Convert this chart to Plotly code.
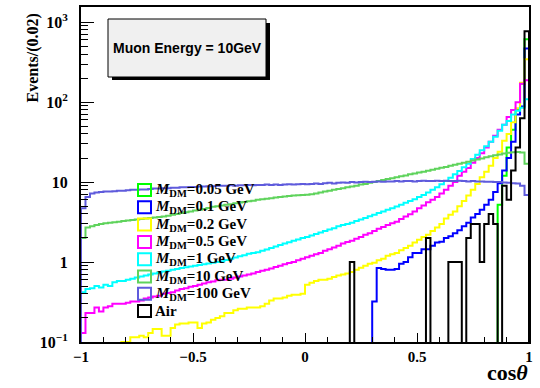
import plotly.graph_objects as go

# binning of the histograms: 100 bins of 0.02 in cos(theta)
n_bins = 100
bin_width = 0.02
x_min = -1.0
left_edges = [round(x_min + bin_width * i, 4) for i in range(n_bins)]

# bin contents (0 = empty bin)
m005 = [0] * 93 + [5.2, 12, 27, 45, 80, 170, 610]

m01 = [0] * 65 + [
    0.32, 0.84, 0.82, 0.8, 0.8, 0.82, 0.95, 1.0, 1.15, 1.3,
    1.3, 1.45, 1.45, 1.6, 1.75, 1.8, 2.0, 2.1, 2.3, 2.5,
    2.8, 3.1, 3.6, 4.0, 4.5, 5.2, 6.0, 7.5, 9.7, 14,
    20, 32, 70, 88, 470]

m02 = [0] * 9 + [
    0.1, 0.1, 0.115, 0.115, 0.12, 0.115, 0.13, 0.145, 0.145, 0.12,
    0.12, 0.15, 0.165, 0.17, 0.17, 0.175, 0.175, 0.15, 0.17, 0.175,
    0.19, 0.2, 0.21, 0.23, 0.23, 0.25, 0.26, 0.26, 0.27, 0.27,
    0.27, 0.28, 0.3, 0.33, 0.35, 0.35, 0.36, 0.38, 0.39, 0.39,
    0.4, 0.52, 0.55, 0.58, 0.6, 0.6, 0.62, 0.65, 0.68, 0.7,
    0.72, 0.75, 0.8, 0.85, 0.9, 0.95, 0.98, 1.05, 1.1, 1.2,
    1.25, 1.3, 1.4, 1.5, 1.6, 1.75, 1.9, 2.05, 2.2, 2.45,
    2.7, 3.0, 3.5, 3.9, 4.3, 5.0, 5.8, 6.8, 8.0, 9.5,
    11.5, 13.5, 16, 20, 24, 33, 40, 56, 84, 175,
    345]

m05 = [
    0.13, 0.23, 0.23, 0.27, 0.24, 0.27, 0.28, 0.3, 0.3, 0.3,
    0.31, 0.32, 0.32, 0.33, 0.35, 0.36, 0.37, 0.38, 0.4, 0.41,
    0.42, 0.44, 0.46, 0.47, 0.49, 0.5, 0.52, 0.54, 0.56, 0.57,
    0.59, 0.6, 0.6, 0.62, 0.64, 0.66, 0.68, 0.7, 0.72, 0.75,
    0.78, 0.8, 0.83, 0.87, 0.9, 0.94, 0.97, 1.0, 1.05, 1.1,
    1.15, 1.2, 1.25, 1.3, 1.38, 1.45, 1.52, 1.6, 1.7, 1.78,
    1.85, 1.95, 2.05, 2.2, 2.3, 2.45, 2.6, 2.75, 2.9, 3.05,
    3.2, 3.45, 3.7, 3.95, 4.3, 4.7, 5.1, 5.6, 6.0, 6.5,
    7.2, 8.0, 9.0, 10.0, 12.0, 13.5, 15, 17.5, 20, 23,
    27, 32, 38, 45, 52, 65, 80, 100, 170, 188]

m1 = [
    0.42, 0.46, 0.47, 0.5, 0.48, 0.52, 0.5, 0.56, 0.58, 0.58,
    0.6, 0.62, 0.64, 0.66, 0.68, 0.7, 0.72, 0.74, 0.76, 0.78,
    0.8, 0.82, 0.84, 0.86, 0.88, 0.9, 0.92, 0.94, 0.96, 0.98,
    1.0, 1.02, 1.06, 1.1, 1.14, 1.18, 1.22, 1.27, 1.3, 1.33,
    1.38, 1.44, 1.5, 1.56, 1.63, 1.7, 1.77, 1.85, 1.92, 2.0,
    2.05, 2.15, 2.25, 2.35, 2.45, 2.55, 2.65, 2.8, 2.9, 3.0,
    3.1, 3.25, 3.4, 3.55, 3.75, 3.9, 4.1, 4.3, 4.5, 4.7,
    4.95, 5.2, 5.5, 5.8, 6.1, 6.5, 6.9, 7.4, 8.0, 8.6,
    9.4, 10.3, 11.3, 12.5, 13.8, 15.3, 17, 19.5, 22, 25,
    28, 32, 37, 44, 52, 58, 70, 78, 85, 109]

m10 = [
    2.0, 2.7, 2.8, 2.9, 3.0, 3.05, 3.1, 3.15, 3.2, 3.25,
    3.3, 3.35, 3.4, 3.45, 3.5, 3.55, 3.6, 3.65, 3.7, 3.8,
    3.9, 4.0, 4.1, 4.2, 4.3, 4.4, 4.5, 4.6, 4.75, 4.9,
    5.0, 5.1, 5.2, 5.3, 5.45, 5.55, 5.65, 5.75, 5.85, 6.0,
    6.1, 6.2, 6.3, 6.4, 6.5, 6.6, 6.7, 6.8, 6.85, 6.9,
    6.95, 7.05, 7.2, 7.4, 7.6, 7.8, 8.0, 8.2, 8.4, 8.6,
    8.8, 9.0, 9.3, 9.5, 9.8, 10.0, 10.3, 10.6, 10.9, 11.2,
    11.5, 11.8, 12.1, 12.5, 12.8, 13.2, 13.5, 13.9, 14.3, 14.7,
    15.1, 15.5, 16.0, 16.5, 17.0, 17.5, 18.0, 18.6, 19.2, 19.8,
    20.4, 21.0, 21.6, 22.2, 22.8, 23.2, 23.6, 23.8, 23.5, 17]

m100 = [
    4.7, 6.5, 7.2, 7.4, 7.5, 7.6, 7.6, 7.7, 7.8, 7.8,
    7.9, 8.0, 8.0, 8.1, 8.1, 8.2, 8.3, 8.3, 8.4, 8.4,
    8.5, 8.5, 8.6, 8.6, 8.7, 8.7, 8.8, 8.8, 8.9, 8.9,
    9.0, 9.0, 9.0, 9.1, 9.0, 9.1, 9.1, 9.2, 9.1, 9.2,
    9.2, 9.3, 9.2, 9.3, 9.2, 9.3, 9.4, 9.3, 9.4, 9.5,
    9.4, 9.5, 9.6, 9.5, 9.7, 9.8, 9.6, 9.8, 9.9, 9.8,
    10.0, 9.9, 10.0, 10.1, 10.0, 10.1, 10.2, 10.1, 10.2, 10.2,
    10.3, 10.2, 10.3, 10.3, 10.2, 10.3, 10.4, 10.3, 10.3, 10.4,
    10.3, 10.4, 10.3, 10.3, 10.4, 10.3, 10.2, 10.3, 10.2, 10.2,
    10.1, 10.1, 10.0, 10.0, 9.9, 9.8, 9.7, 9.6, 9.0, 6.9]

air = [0] * n_bins
air_bins = {60: 1, 77: 2, 82: 1, 83: 1, 84: 1, 86: 2, 87: 3, 88: 3, 89: 1,
            90: 3, 91: 4, 92: 3, 94: 9, 95: 6, 96: 14, 97: 27, 98: 63, 99: 770}
for b, v in air_bins.items():
    air[b] = v

names = ["<i>M</i><sub>DM</sub>=0.05 GeV", "<i>M</i><sub>DM</sub>=0.1 GeV",
         "<i>M</i><sub>DM</sub>=0.2 GeV", "<i>M</i><sub>DM</sub>=0.5 GeV",
         "<i>M</i><sub>DM</sub>=1 GeV", "<i>M</i><sub>DM</sub>=10 GeV",
         "<i>M</i><sub>DM</sub>=100 GeV", "Air"]
series = [m005, m01, m02, m05, m1, m10, m100, air]
colors = ["#00ff00", "#0000ff", "#ffff00", "#ff00ff", "#00ffff",
          "#5fd35c", "#5f5bdc", "#000000"]

y_tickvals = [0.1, 1, 10, 100, 1000]
y_ticktext = ["10<sup>\u22121</sup>", "1", "10", "10<sup>2</sup>", "10<sup>3</sup>"]
y_minor = [m * 10 ** e for e in range(-1, 3) for m in range(2, 10)]

# pixel frame of the plot area
L, R, T, B = 81, 529, 7, 342
W, H = 540, 388


def px(p):
    return (p - L) / (R - L)


def py(p):
    return 1 - (p - T) / (B - T)


floor = 1e-3
fig = go.Figure()
for name, vals, col in zip(names, series, colors):
    v = [c if c > 0 else floor for c in vals]
    fig.add_trace(go.Scatter(
        x=[x_min] + left_edges + [1.0, 1.0],
        y=[floor] + v + [v[-1], floor],
        mode="lines", line=dict(color=col, width=2, shape="hv"),
        name=name, showlegend=False, hoverinfo="skip"))

shapes = []
annotations = []

# legend (transparent, ROOT style boxes)
for i, (name, col) in enumerate(zip(names, colors)):
    yc = 190 + 17.3 * i
    shapes.append(dict(type="rect", xref="paper", yref="paper",
                       x0=px(138), x1=px(151), y0=py(yc + 6), y1=py(yc - 6),
                       line=dict(color=col, width=2)))
    annotations.append(dict(xref="paper", yref="paper", x=px(153), y=py(yc),
                            xanchor="left", yanchor="middle", showarrow=False,
                            text="<b>" + name + "</b>",
                            font=dict(family="Liberation Serif", size=15, color="black")))

# title pave with shadow
shapes.append(dict(type="rect", xref="paper", yref="paper",
                   x0=px(112), x1=px(270), y0=py(80), y1=py(23),
                   fillcolor="black", line=dict(width=0)))
shapes.append(dict(type="rect", xref="paper", yref="paper",
                   x0=px(108), x1=px(266), y0=py(77), y1=py(19),
                   fillcolor="#f0f0f0", line=dict(color="black", width=1)))
annotations.append(dict(xref="paper", yref="paper", x=px(187), y=py(48),
                        xanchor="center", yanchor="middle", showarrow=False,
                        text="<b>Muon Energy = 10GeV</b>",
                        font=dict(family="Liberation Sans", size=14, color="black")))

# axis titles
annotations.append(dict(xref="paper", yref="paper", x=px(32), y=py(12),
                        xanchor="center", yanchor="top", showarrow=False, textangle=-90,
                        text="<b>Events/(0.02)</b>",
                        font=dict(family="Liberation Serif", size=16, color="black")))
annotations.append(dict(xref="paper", yref="paper", x=px(530), y=py(387),
                        xanchor="right", yanchor="bottom", showarrow=False,
                        text="<b>cos<i>\u03b8</i></b>",
                        font=dict(family="Liberation Serif", size=22, color="black")))

fig.update_layout(
    width=W, height=H,
    margin=dict(l=L, r=W - R, t=T, b=H - B, autoexpand=False),
    paper_bgcolor="white", plot_bgcolor="white",
    showlegend=False,
    shapes=shapes, annotations=annotations,
    font=dict(family="Liberation Serif", color="black"),
    xaxis=dict(range=[-1, 1], tick0=-1, dtick=0.5, ticks="inside", ticklen=9,
               tickwidth=1, tickcolor="black",
               minor=dict(dtick=0.1, tick0=-1, ticks="inside", ticklen=5, tickcolor="black"),
               showline=True, linecolor="black", linewidth=2, mirror=True,
               showgrid=False, zeroline=False,
               tickfont=dict(family="Liberation Serif", size=15, color="black", weight="bold")),
    yaxis=dict(type="log", range=[-1, 3.19], tickvals=y_tickvals, ticktext=y_ticktext,
               ticks="inside", ticklen=13, tickwidth=1, tickcolor="black",
               minor=dict(tickvals=y_minor, ticks="inside", ticklen=7, tickcolor="black"),
               showline=True, linecolor="black", linewidth=2, mirror=True,
               showgrid=False, zeroline=False, ticklabelstandoff=8,
               tickfont=dict(family="Liberation Serif", size=16, color="black", weight="bold")),
)

# the page body has a default 8px margin; drop it so the figure sits at the corner
fig.write_html("out.html", config={"displayModeBar": False},
               post_script="document.body.style.margin='0px';")
